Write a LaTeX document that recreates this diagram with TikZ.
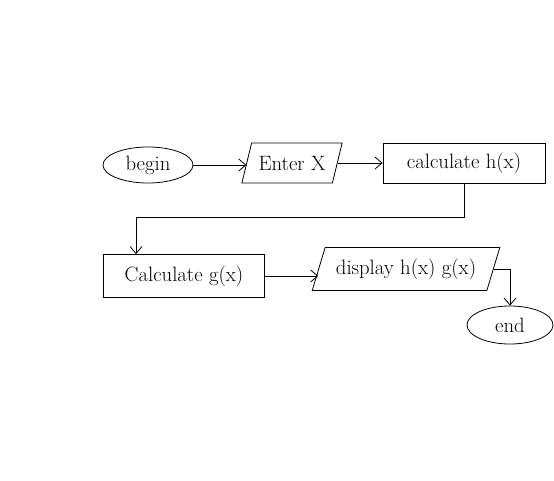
\documentclass[tikz,border=0pt]{standalone}
\usepackage{tikz}
\usetikzlibrary{shapes.geometric,arrows.meta}

\tikzset{
  terminal/.style={draw,ellipse,line width=0.8pt,inner sep=0pt,font=\huge},
  process/.style={draw,rectangle,line width=0.8pt,inner sep=2pt,font=\huge},
  io/.style={draw,trapezium,trapezium left angle=65,trapezium right angle=115,
    trapezium stretches=true,line width=0.8pt,inner sep=2pt,font=\huge},
  flow/.style={-{Straight Barb[length=7pt,width=12pt]},line width=0.8pt}
}

\begin{document}
\begin{tikzpicture}[x=1pt,y=-1pt]
\useasboundingbox (0,0) rectangle (554,480);
%first row
\node[terminal,minimum width=90pt,minimum height=36pt] (start) at (148,165) {begin};
\node[io,minimum width=101pt,minimum height=40pt] (enterx) at (292,163) {Enter X};
\node[process,minimum width=162pt,minimum height=40pt] (calch) at (464,163) {calculate h(x)};
%second row
\node[process,minimum width=161pt,minimum height=43pt] (calcg) at (184,276) {Calculate g(x)};
\node[io,minimum width=188pt,minimum height=43pt] (display) at (406,269) {display h(x) g(x)};
\node[terminal,minimum width=86pt,minimum height=38pt] (stop) at (510,325) {end};
\coordinate (turn) at (136,217);
%arrows
\draw[flow] (start.east) -- (start.east -| enterx.west);
\draw[flow] (enterx.east) -- (enterx.east -| calch.west);
\draw[flow] (calch.south) |- (turn) -- (turn |- calcg.north);
\draw[flow] (calcg.east) -- (calcg.east -| display.west);
\draw[flow] (display.east) -| (stop.north);
\end{tikzpicture}
\end{document}
